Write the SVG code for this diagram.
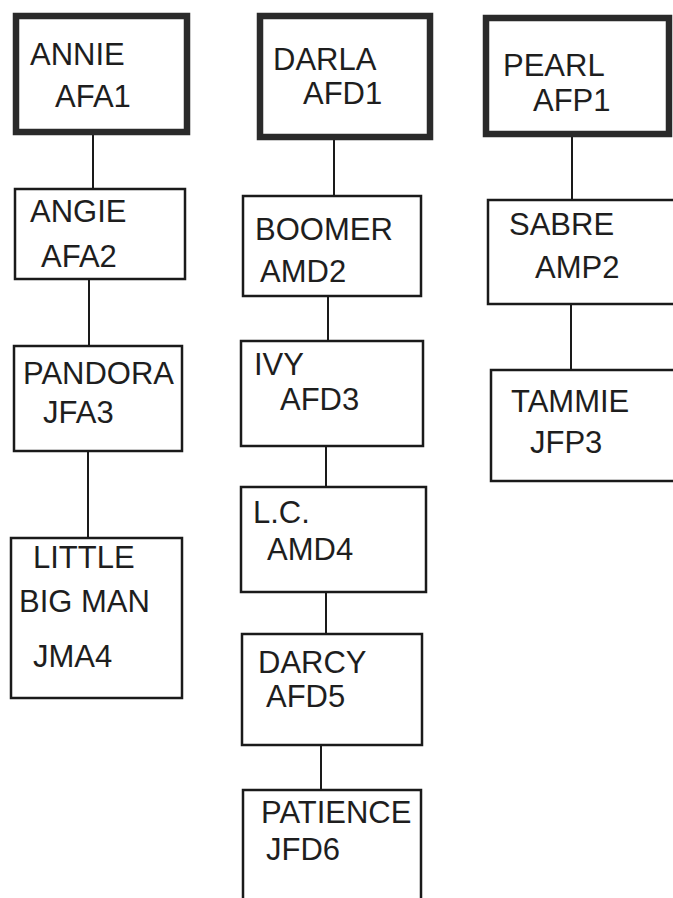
<svg xmlns="http://www.w3.org/2000/svg" width="673" height="898" viewBox="0 0 673 898">
<style>
.box{fill:#fff;stroke:#1a1a1a;stroke-width:2.5}
.thick{fill:#fff;stroke:#2a2a2a;stroke-width:6.5}
.lbl{font-family:"Liberation Sans",Arial,sans-serif;font-size:31px;fill:#1e1e1e}
.conn line{stroke:#1a1a1a;stroke-width:2}
</style>
<rect width="673" height="898" fill="#fff"/>
<g class="conn">
<line x1="93" y1="135" x2="93" y2="188"/>
<line x1="89" y1="280" x2="89" y2="345"/>
<line x1="88" y1="452" x2="88" y2="537"/>
<line x1="334" y1="140" x2="334" y2="195"/>
<line x1="328" y1="297" x2="328" y2="340"/>
<line x1="326" y1="447" x2="326" y2="486"/>
<line x1="326" y1="593" x2="326" y2="633"/>
<line x1="321" y1="746" x2="321" y2="789"/>
<line x1="572" y1="137" x2="572" y2="199"/>
<line x1="571" y1="305" x2="571" y2="369"/>
</g>
<g id="annie"><rect class="thick" x="16" y="16" width="171" height="116"/><text class="lbl" x="30" y="65">ANNIE</text><text class="lbl" x="55" y="107">AFA1</text></g>
<g id="angie"><rect class="box" x="15" y="189" width="170" height="90"/><text class="lbl" x="30" y="222">ANGIE</text><text class="lbl" x="41" y="267">AFA2</text></g>
<g id="pandora"><rect class="box" x="14" y="346" width="168" height="105"/><text class="lbl" x="23" y="384">PANDORA</text><text class="lbl" x="43" y="423">JFA3</text></g>
<g id="littlebigman"><rect class="box" x="11" y="538" width="171" height="160"/><text class="lbl" x="33" y="568">LITTLE</text><text class="lbl" x="19" y="612">BIG MAN</text><text class="lbl" x="33" y="667">JMA4</text></g>
<g id="darla"><rect class="thick" x="260" y="16" width="170" height="121"/><text class="lbl" x="273" y="70">DARLA</text><text class="lbl" x="303" y="104">AFD1</text></g>
<g id="boomer"><rect class="box" x="243" y="196" width="178" height="100"/><text class="lbl" x="255" y="240">BOOMER</text><text class="lbl" x="260" y="282">AMD2</text></g>
<g id="ivy"><rect class="box" x="241" y="341" width="182" height="105"/><text class="lbl" x="254" y="375">IVY</text><text class="lbl" x="280" y="410">AFD3</text></g>
<g id="lc"><rect class="box" x="241" y="487" width="185" height="105"/><text class="lbl" x="253" y="523">L.C.</text><text class="lbl" x="267" y="560">AMD4</text></g>
<g id="darcy"><rect class="box" x="242" y="634" width="180" height="111"/><text class="lbl" x="258" y="673">DARCY</text><text class="lbl" x="266" y="707">AFD5</text></g>
<g id="patience"><rect class="box" x="243" y="790" width="178" height="120"/><text class="lbl" x="261" y="823">PATIENCE</text><text class="lbl" x="266" y="860">JFD6</text></g>
<g id="pearl"><rect class="thick" x="486" y="18" width="183" height="116"/><text class="lbl" x="503" y="76">PEARL</text><text class="lbl" x="533" y="111">AFP1</text></g>
<g id="sabre"><rect class="box" x="488" y="200" width="200" height="104"/><text class="lbl" x="509" y="235">SABRE</text><text class="lbl" x="535" y="278">AMP2</text></g>
<g id="tammie"><rect class="box" x="491" y="370" width="200" height="111"/><text class="lbl" x="511" y="412">TAMMIE</text><text class="lbl" x="530" y="453">JFP3</text></g>
</svg>
